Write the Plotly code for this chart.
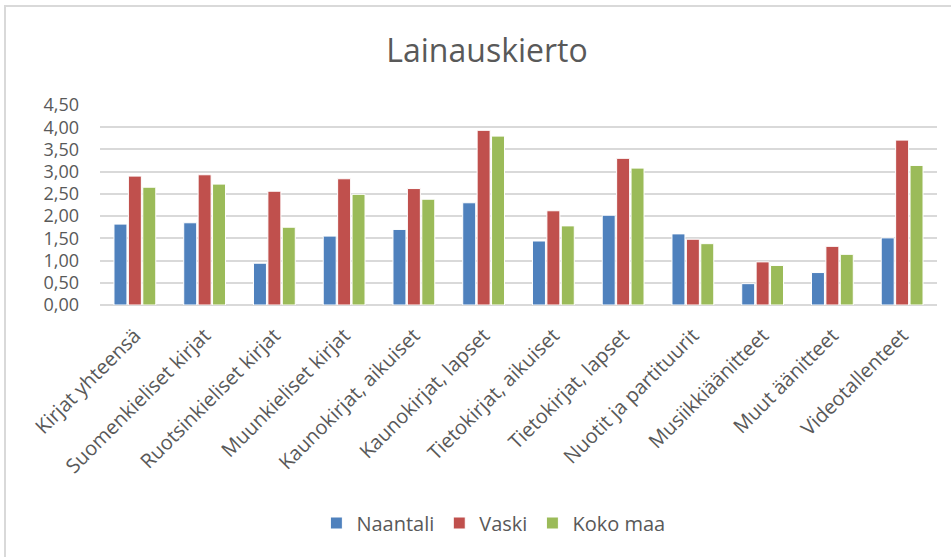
import plotly.graph_objects as go

categories = ["Kirjat yhteensä", "Suomenkieliset kirjat", "Ruotsinkieliset kirjat",
              "Muunkieliset kirjat", "Kaunokirjat, aikuiset", "Kaunokirjat, lapset",
              "Tietokirjat, aikuiset", "Tietokirjat, lapset", "Nuotit ja partituurit",
              "Musiikkiäänitteet", "Muut äänitteet", "Videotallenteet"]
naantali = [1.82, 1.85, 0.94, 1.55, 1.70, 2.30, 1.44, 2.02, 1.60, 0.48, 0.73, 1.51]
vaski = [2.90, 2.93, 2.56, 2.84, 2.62, 3.93, 2.12, 3.30, 1.48, 0.97, 1.32, 3.71]
koko_maa = [2.65, 2.72, 1.75, 2.49, 2.38, 3.80, 1.78, 3.08, 1.38, 0.89, 1.14, 3.14]
series_names = ["Naantali", "Vaski", "Koko maa"]
colors = ["#4F81BD", "#C0504D", "#9BBB59"]

FONT = "Open Sans"
TXT = "#595959"

fig = go.Figure()
for name, vals, col in zip(series_names, [naantali, vaski, koko_maa], colors):
    fig.add_trace(go.Bar(x=categories, y=vals, name=name,
                         marker=dict(color=col, line=dict(color="white", width=1))))

W, H = 951, 557
L, T, R = 100, 105, 14
pw = W - L - R
ph = 200
B = H - T - ph
bottom_px = T + ph

fig.update_layout(
    width=W, height=H,
    margin=dict(l=L, r=R, t=T, b=B, autoexpand=False),
    paper_bgcolor="white", plot_bgcolor="white",
    separators=", ",
    barmode="group", bargap=0.38, bargroupgap=0.1,
    font=dict(family=FONT, color=TXT, size=18),
    title=dict(text="Lainauskierto", x=487 / W, xanchor="center",
               y=1 - 51 / H, yanchor="middle",
               yref="container", font=dict(family=FONT, size=32, color=TXT)),
    legend=dict(orientation="h", x=0.47, xanchor="center",
                y=-(523 - bottom_px) / ph,
                yanchor="middle", font=dict(size=20, color=TXT), itemwidth=30,
                traceorder="normal"),
    xaxis=dict(tickangle=-45, showgrid=False, showline=False, ticks="",
               ticklabelstandoff=14,
               tickfont=dict(size=20, color=TXT)),
    yaxis=dict(range=[0, 4.5], dtick=0.5, tickformat=".2f", showgrid=True,
               gridcolor="#D9D9D9", gridwidth=1.5, zeroline=True, zerolinecolor="#D9D9D9",
               zerolinewidth=2, ticks="", ticklabelstandoff=20,
               tickfont=dict(size=18, color=TXT)),
    shapes=[dict(type="rect", xref="paper", yref="paper",
                 x0=(5 - L) / pw, x1=(W + 20 - L) / pw,
                 y0=(bottom_px - (H + 20)) / ph, y1=(bottom_px - 6) / ph,
                 line=dict(color="#D9D9D9", width=2), fillcolor="rgba(0,0,0,0)", layer="below")],
)

fig.write_html("out.html", config={"displayModeBar": False},
               post_script="document.body.style.margin='0';document.body.style.overflow='hidden';")
